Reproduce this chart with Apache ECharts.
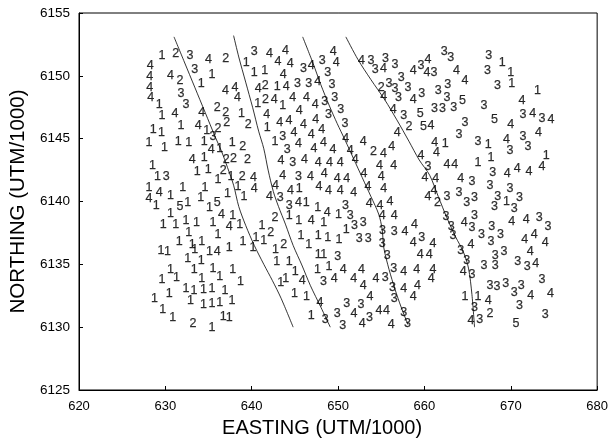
<!DOCTYPE html>
<html><head><meta charset="utf-8">
<script src="https://cdn.jsdelivr.net/npm/echarts@6.0.0/dist/echarts.min.js"></script>
<style>html,body{margin:0;padding:0;background:#fff}#c{width:611px;height:443px}</style>
</head><body><div id="c"></div>
<script>
const xTicks = [620, 630, 640, 650, 660, 670, 680];
const yTicks = [6125, 6130, 6135, 6140, 6145, 6150, 6155];
const xName = 'EASTING (UTM/1000)';
const yName = 'NORTHING (UTM/1000)';

const pts1 = [
[629.6,6151.6],[635.4,6150.1],[634.15,6149.35],[629.3,6147.75],[638.8,6147.0],[629.6,6146.8],[631.8,6146.05],[634.8,6145.65],[628.6,6145.7],[629.55,6145.45],
[639.35,6151.05],[640.3,6150.3],[641.5,6150.4],[642.95,6149.15],[640.7,6147.8],[643.6,6147.65],[642.7,6144.75],[641.8,6145.9],
[645.5,6141.05],[646.3,6139.9],[647.65,6139.5],[650.05,6139.0],[644.35,6138.85],[645.45,6138.5],[648.35,6138.3],[650.95,6137.8],[641.2,6138.1],
[645.7,6137.3],[647.7,6137.3],[648.8,6137.15],[650.1,6137.0],[642.75,6136.15],[646.6,6136.55],[647.7,6135.8],[648.35,6135.75],[642.9,6135.2],[644.35,6135.25],
[639.0,6136.8],[640.5,6137.1],[641.4,6136.9],[640.15,6136.3],[638.6,6138.2],
[635.5,6138.3],[633.6,6138.3],[632.4,6138.5],[631.2,6138.2],[629.75,6138.2],[637.8,6138.85],[635.1,6139.5],[630.6,6139.05],[628.95,6139.7],[632.6,6139.9],[634.1,6140.35],[630.6,6140.5],[639.1,6140.4],[637.2,6140.6],[638.4,6141.2],[628.1,6141.1],[632.0,6141.1],[634.6,6141.1],[636.1,6141.75],[637.6,6142.0],[629.1,6141.95],[633.7,6142.4],[634.95,6142.55],[628.5,6142.9],[634.5,6143.5],[636.3,6144.2],[628.1,6144.7],[629.9,6144.3],[631.5,6144.75],[632.7,6144.7],[634.5,6144.8],[637.75,6144.7],
[632.7,6137.5],[636.1,6137.4],[631.6,6136.8],[633.1,6136.6],[634.2,6136.8],[629.5,6136.1],[630.25,6136.0],[632.6,6135.5],[633.4,6136.15],[634.15,6135.3],[635.1,6136.0],[637.4,6136.3],[630.6,6134.6],[631.3,6133.95],[633.35,6134.6],[634.2,6133.9],[635.5,6134.7],[636.3,6134.0],[637.8,6134.55],[638.7,6133.6],[629.6,6133.8],[630.45,6132.7],[632.4,6133.1],[633.3,6132.9],[634.4,6133.0],[635.4,6133.1],[636.9,6132.9],[628.75,6132.3],[629.7,6131.4],[632.9,6132.1],[634.4,6131.8],[635.4,6131.9],[636.3,6131.95],[637.7,6132.1],[630.85,6130.8],[635.4,6130.0],[636.7,6130.85],[637.4,6130.8],
[643.35,6133.55],[643.95,6133.85],[645.05,6134.45],[644.95,6132.7],[646.35,6132.4],[646.9,6130.95],[647.6,6134.6],[648.95,6134.8],
[669.0,6151.05],[670.0,6150.3],[670.1,6149.4],[673.1,6148.85],[662.4,6144.6],[667.4,6144.5],[674.1,6143.65],[666.2,6143.1],[667.7,6143.5],[669.5,6140.0],[664.7,6132.4],[666.2,6132.4]
];
const pts2 = [
[631.2,6151.75],[637.0,6151.35],[631.7,6149.65],[636.0,6147.45],[637.0,6147.1],[639.6,6146.15],[637.1,6146.3],[636.1,6145.8],[641.55,6149.2],[641.6,6148.1],[638.9,6142.0],[642.7,6138.75],[642.2,6137.55],[643.7,6136.6],[636.7,6142.5],[637.05,6143.3],[637.9,6143.4],[639.5,6143.3],[638.95,6144.4],[633.2,6130.3],[654.1,6144.0],[655.0,6149.1],[658.2,6145.95],[661.5,6139.9],[667.6,6131.05]
];
const pts3 = [
[632.85,6151.65],[633.4,6150.5],[631.8,6148.6],[632.4,6147.75],[635.5,6145.15],
[640.3,6151.9],[646.0,6150.55],[648.15,6151.2],[648.8,6150.25],[645.3,6149.4],[646.6,6149.4],[649.3,6149.3],[648.45,6147.95],[649.6,6148.25],[650.3,6147.3],[648.9,6146.9],[650.8,6146.2],
[643.6,6145.15],[644.1,6144.1],[644.75,6143.1],[645.4,6142.0],[643.3,6140.35],[644.35,6139.7],[650.85,6139.7],[651.4,6138.9],[651.9,6138.1],[652.9,6138.35],[652.45,6137.05],[653.5,6137.05],[649.95,6135.65],[630.1,6142.0],
[648.5,6130.6],[649.9,6131.1],[650.55,6130.15],[648.3,6133.6],[655.45,6133.95],[651.0,6131.9],[652.65,6131.8],[653.65,6130.8],[657.6,6131.15],[658.05,6130.25],[656.5,6132.25],[656.3,6133.15],[656.45,6134.65],[655.7,6135.7],[655.1,6136.65],[659.7,6137.1],[655.15,6137.7],[656.5,6137.6],
[653.8,6151.25],[655.5,6151.4],[656.6,6150.9],[654.3,6150.5],[657.3,6149.9],[655.9,6149.4],[656.6,6148.95],[658.1,6149.05],[657.0,6148.3],[659.7,6148.6],[657.6,6146.8],[659.6,6150.8],[661.1,6150.3],[662.3,6151.9],[663.05,6151.45],[661.6,6148.85],[662.7,6149.3],[662.6,6148.3],[661.15,6147.4],[662.1,6147.4],[663.4,6147.45],[664.7,6146.25],[664.0,6145.3],
[667.45,6151.6],[667.3,6150.4],[668.45,6149.2],[666.9,6147.6],[671.4,6146.9],[673.6,6146.6],[671.4,6145.2],[666.2,6144.75],[669.9,6144.05],[672.0,6144.4],[660.4,6142.8],[667.9,6142.3],[665.5,6141.6],[667.6,6141.3],[669.9,6141.05],[662.6,6140.4],[664.0,6140.7],[664.9,6139.9],[665.8,6140.3],[668.5,6140.4],[668.1,6139.6],[671.0,6140.3],[670.4,6139.4],[665.8,6138.9],[662.5,6138.8],[663.1,6138.0],[663.3,6137.3],[665.5,6137.9],[666.6,6137.4],[667.8,6138.0],[667.7,6136.8],[668.8,6137.4],[673.3,6138.7],[674.3,6138.0],[664.2,6136.1],[664.9,6135.3],[668.2,6135.7],[669.2,6136.0],[670.8,6135.2],[671.9,6134.8],[666.9,6134.9],[668.2,6134.9],[665.5,6134.2],[673.6,6133.8],[667.6,6133.35],[668.4,6133.2],[669.4,6133.5],[670.4,6132.75],[671.2,6133.3],[665.8,6131.6],[671.0,6131.7],[666.4,6130.6],[674.0,6131.0]
];
const pts4 = [
[635.0,6151.3],[628.25,6150.8],[630.6,6150.05],[628.2,6149.95],[628.2,6149.05],[636.95,6148.85],[638.05,6149.1],[638.35,6148.3],[628.3,6148.3],[634.2,6147.05],[631.1,6147.0],[633.8,6146.05],
[642.05,6151.8],[643.9,6152.0],[643.05,6151.1],[644.45,6151.0],[646.9,6150.85],[649.45,6151.9],[649.8,6151.05],[643.65,6150.1],[640.75,6148.95],[644.0,6149.15],[647.65,6149.55],[642.6,6148.1],[644.75,6148.25],[646.35,6148.25],[647.35,6147.75],[641.75,6146.9],[645.5,6147.2],[643.25,6146.3],[644.3,6146.45],[646.0,6146.15],[647.4,6146.55],
[644.9,6145.5],[646.9,6145.3],[648.1,6145.7],[645.4,6144.6],[647.2,6144.2],[648.3,6144.7],[649.4,6144.1],
[643.4,6143.25],[646.1,6143.3],[647.7,6143.1],[649.0,6143.1],[650.25,6143.1],[643.6,6142.1],[646.8,6142.0],[648.4,6142.2],[649.9,6141.8],[651.0,6141.8],[642.75,6141.3],[644.5,6140.9],[647.8,6141.2],[648.9,6140.9],[650.25,6140.9],[651.8,6140.7],[640.2,6141.9],[640.3,6141.0],[642.05,6140.4],[645.4,6139.9],[648.75,6139.15],[646.9,6138.45],
[635.3,6144.1],[633.1,6143.3],[636.5,6139.0],[637.4,6138.0],[629.3,6140.7],[628.1,6140.2],[636.0,6136.0],
[645.85,6133.7],[647.9,6131.95],[650.6,6134.6],[652.7,6134.6],[649.55,6133.9],[651.8,6133.9],[652.9,6133.3],[654.4,6133.9],[653.7,6132.4],[651.85,6131.1],[652.8,6130.3],[654.75,6131.35],[655.6,6131.35],[656.15,6130.2],[658.7,6132.4],[657.6,6133.1],[659.2,6133.35],[660.8,6133.85],[657.6,6134.45],[659.1,6134.55],[661.0,6134.55],[659.5,6135.8],[660.55,6135.8],[658.7,6136.7],[661.0,6136.65],[657.75,6137.6],[658.85,6138.15],[655.1,6138.85],[656.5,6138.85],[653.6,6139.8],[654.85,6139.7],[656.0,6140.0],[653.45,6141.2],[655.3,6141.0],[653.0,6142.25],[655.0,6142.0],[652.0,6143.3],[654.8,6142.85],[656.45,6142.9],[650.9,6145.0],[651.4,6144.05],[652.9,6144.75],[655.25,6143.85],[656.2,6144.4],[656.85,6145.5],
[652.7,6151.25],[655.25,6150.55],[655.3,6148.35],[658.7,6148.1],[656.4,6147.35],[658.7,6150.4],[660.4,6151.3],[660.3,6150.3],[663.7,6150.4],[664.7,6149.6],[660.75,6146.05],[671.3,6148.05],[670.0,6146.1],[672.55,6147.0],[674.65,6146.5],[673.2,6145.5],[661.2,6144.7],[669.5,6144.9],[661.4,6143.9],[673.6,6142.8],[659.6,6143.65],[662.6,6142.95],[663.5,6142.95],[669.6,6142.2],[670.75,6142.6],[672.1,6142.35],[660.05,6141.9],[661.3,6141.8],[664.2,6141.8],[660.4,6140.4],[661.1,6140.9],[664.6,6138.3],[670.1,6138.4],[671.8,6138.6],[671.6,6137.0],[672.7,6137.4],[674.0,6136.7],[665.4,6136.6],[672.25,6136.0],[672.9,6135.1],[664.5,6134.45],[672.3,6132.5],[674.6,6132.7],[667.4,6132.15],[665.4,6130.5]
];
const pts5 = [[636.0,6139.9],[631.7,6139.6],[664.4,6148.05],[659.5,6147.0],[659.9,6146.0],[668.1,6146.5],[670.6,6130.3]];

const line1 = [[631.0,6153.1],[632.2,6151.1],[633.4,6149.1],[634.6,6147.1],[635.8,6145.1],[636.5,6144.0],[637.2,6142.7],[637.9,6141.3],[638.5,6139.6],[639.3,6138.1],[640.3,6136.5],[641.4,6135.0],[642.4,6133.7],[643.4,6132.3],[644.8,6130.0]];
const line2 = [[637.9,6153.2],[638.5,6151.5],[639.3,6149.5],[640.1,6147.5],[640.8,6145.6],[641.4,6144.2],[641.9,6142.5],[642.5,6140.8],[643.1,6139.6],[643.9,6138.2],[644.8,6136.5],[645.8,6134.95],[646.8,6133.3],[648.0,6131.6],[649.1,6130.0]];
const line3 = [[645.9,6153.1],[647.1,6151.0],[648.0,6149.3],[649.0,6147.6],[649.9,6146.2],[650.8,6144.9],[651.8,6143.4],[652.8,6141.9],[653.8,6140.4],[654.7,6139.0],[655.1,6137.8],[655.3,6136.3],[655.9,6134.6],[656.6,6133.0],[657.3,6131.6],[658.1,6130.2]];
const line4 = [[650.9,6153.1],[652.3,6151.3],[653.8,6149.7],[655.4,6148.1],[656.8,6146.5],[658.2,6144.8],[659.4,6143.3],[660.6,6142.1],[661.6,6140.4],[662.6,6138.7],[663.6,6137.2],[664.5,6136.0],[665.1,6134.7],[665.5,6132.6],[665.8,6130.0]];

const FONT = 'Liberation Sans';
const groups = [['1', pts1], ['2', pts2], ['3', pts3], ['4', pts4], ['5', pts5]];
const series = groups.map(([code, pts]) => ({
  type: 'scatter', data: pts, symbol: 'circle', symbolSize: 1, silent: true, z: 3,
  itemStyle: { color: 'rgba(0,0,0,0)' },
  label: { show: true, position: 'inside', formatter: code, color: '#000', fontSize: 12.5, fontFamily: FONT,
           textBorderColor: '#000', textBorderWidth: 0.25 },
  labelLayout: { hideOverlap: false }
}));
[line1, line2, line3, line4].forEach(l => series.push({
  type: 'line', data: l, showSymbol: false, smooth: 0.3, silent: true, z: 2,
  lineStyle: { color: '#000', width: 0.8 }
}));

const chart = echarts.init(document.getElementById('c'), null, { renderer: 'canvas' });
chart.setOption({
  animation: false,
  backgroundColor: '#fff',
  grid: { left: 79, right: 12, top: 13, bottom: 46, show: true, borderColor: '#000', borderWidth: 1, backgroundColor: 'transparent' },
  xAxis: {
    type: 'value', min: xTicks[0], max: xTicks[xTicks.length - 1], interval: 10,
    name: xName, nameLocation: 'middle', nameGap: 28,
    nameTextStyle: { fontSize: 20, fontFamily: FONT, color: '#000', padding: [0, 32, 0, 0] },
    axisLine: { lineStyle: { color: '#000', width: 1 } },
    axisTick: { inside: true, length: 4, lineStyle: { color: '#000' } },
    axisLabel: { fontSize: 13, fontFamily: FONT, color: '#000', margin: 10, formatter: v => String(v) },
    splitLine: { show: false }
  },
  yAxis: {
    type: 'value', min: yTicks[0], max: yTicks[yTicks.length - 1], interval: 5,
    name: yName, nameLocation: 'middle', nameGap: 49, nameRotate: 90,
    nameTextStyle: { fontSize: 20.5, fontFamily: FONT, color: '#000' },
    axisLine: { lineStyle: { color: '#000', width: 1 } },
    axisTick: { inside: true, length: 4, lineStyle: { color: '#000' } },
    axisLabel: { fontSize: 13.5, fontFamily: FONT, color: '#000', margin: 9, formatter: v => String(v) },
    splitLine: { show: false }
  },
  series: series
});
</script>
</body></html>
